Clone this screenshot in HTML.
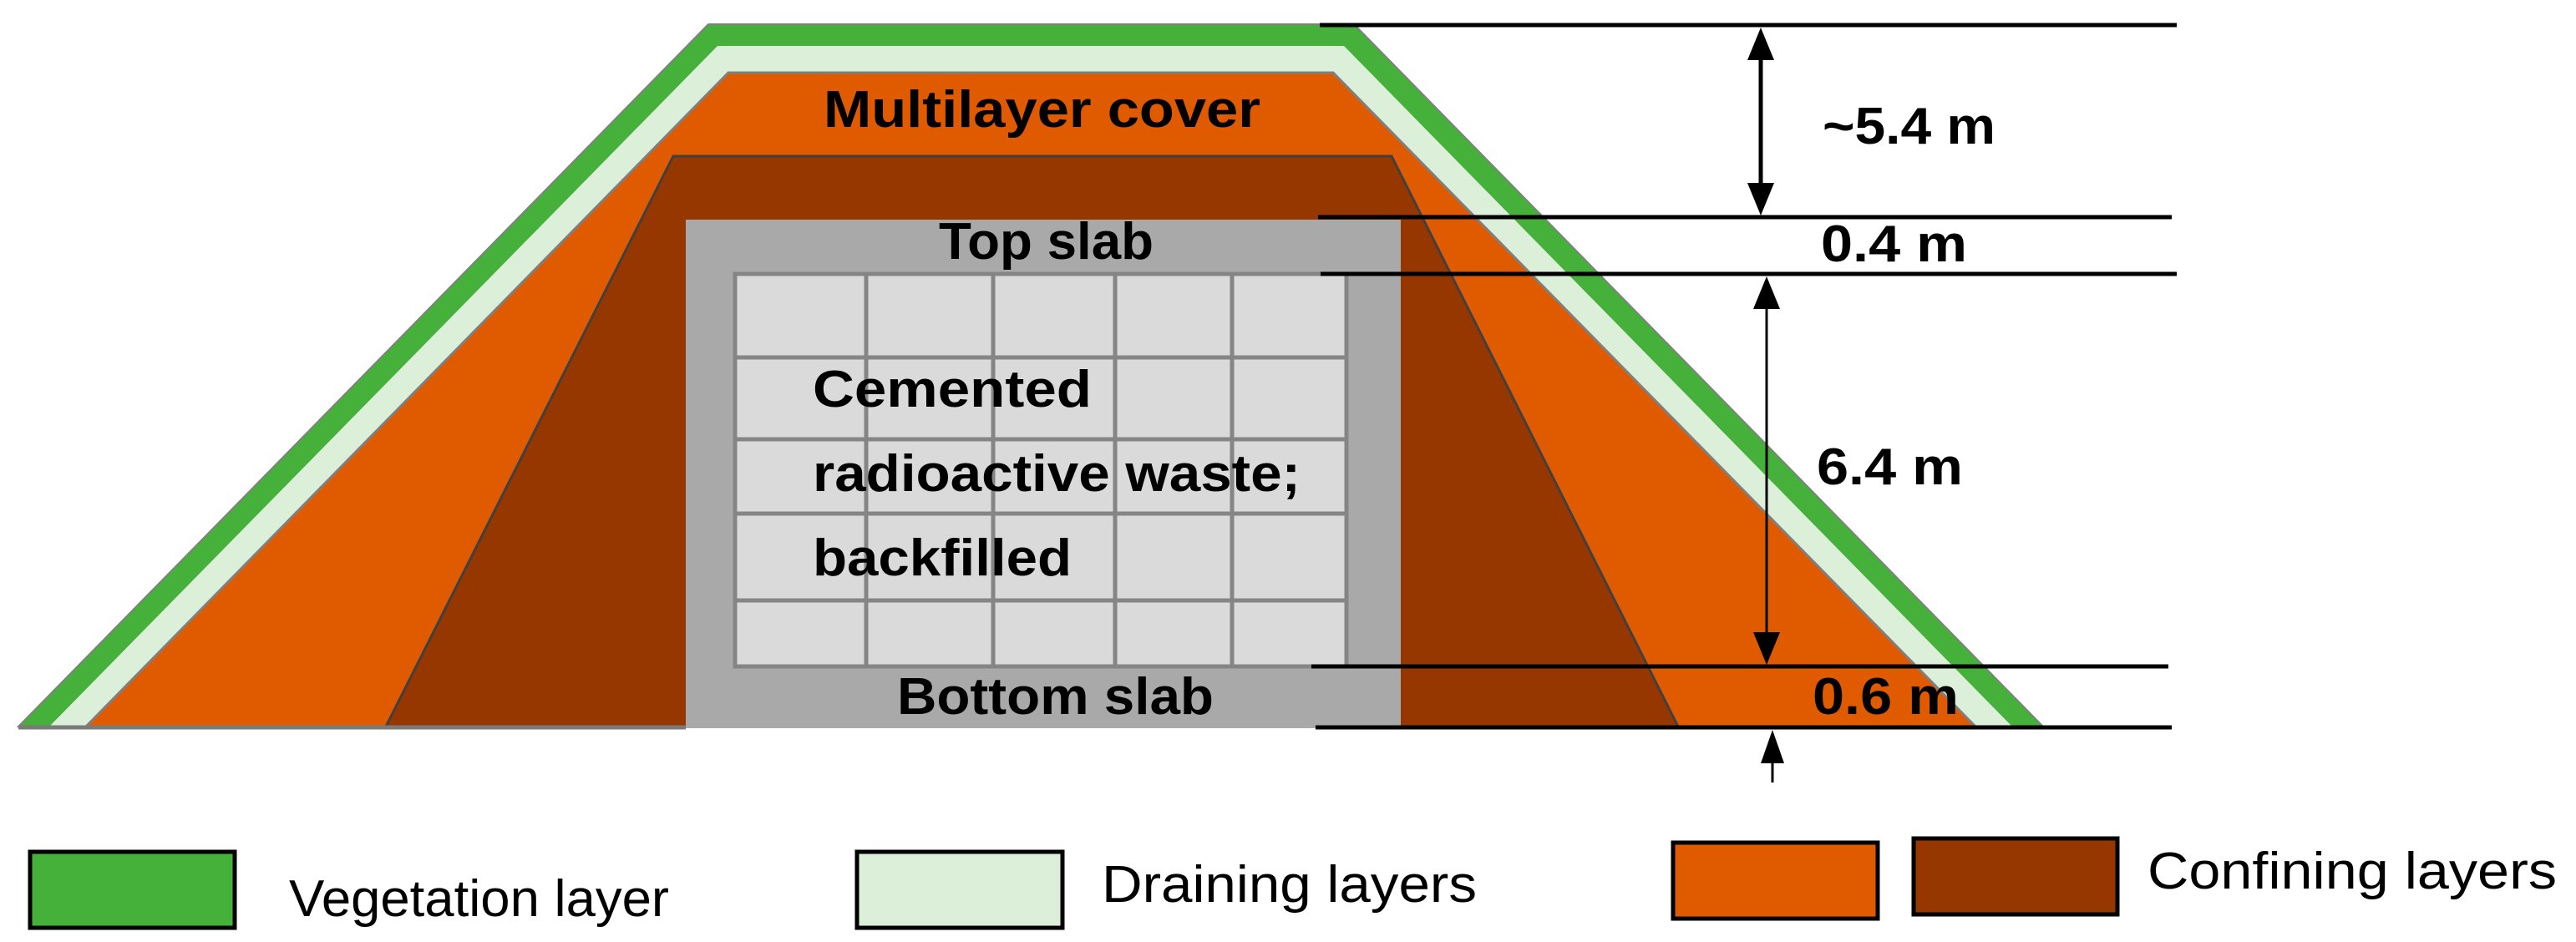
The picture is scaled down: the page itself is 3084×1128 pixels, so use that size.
<!DOCTYPE html>
<html><head><meta charset="utf-8"><style>
html,body{margin:0;padding:0;background:#fff;}
svg{display:block;}
text{font-family:"Liberation Sans",sans-serif;fill:#000;}
</style></head><body>
<svg width="3084" height="1128" viewBox="0 0 3084 1128" xmlns="http://www.w3.org/2000/svg">
<polygon points="848,29 1621,29 2446,870 22,870" fill="#45b03a" stroke="#808080" stroke-width="2"/>
<polygon points="859,55 1609,55 2409,870 59,870" fill="#dcefd9"/>
<polygon points="872,87 1596,87 2365,870 103,870" fill="#e05a00" stroke="#7f7f7f" stroke-width="3"/>
<polygon points="806,187 1666,187 2009,870 462,870" fill="#973700" stroke="#404040" stroke-width="3"/>
<rect x="821" y="263" width="856" height="609" fill="#a9a9a9"/>
<line x1="22" y1="871" x2="821" y2="871" stroke="#7a7a7a" stroke-width="5"/>
<rect x="880" y="328" width="732" height="470" fill="#dadada" stroke="#858585" stroke-width="5"/>
<g stroke="#858585" stroke-width="5">
<line x1="1037" y1="328" x2="1037" y2="798"/>
<line x1="1189" y1="328" x2="1189" y2="798"/>
<line x1="1335" y1="328" x2="1335" y2="798"/>
<line x1="1475" y1="328" x2="1475" y2="798"/>
<line x1="880" y1="428" x2="1612" y2="428"/>
<line x1="880" y1="526" x2="1612" y2="526"/>
<line x1="880" y1="615" x2="1612" y2="615"/>
<line x1="880" y1="719" x2="1612" y2="719"/>
</g>
<g font-weight="bold" font-size="62">
<text x="986" y="152" textLength="523" lengthAdjust="spacingAndGlyphs">Multilayer cover</text>
<text x="1124" y="310" textLength="257" lengthAdjust="spacingAndGlyphs">Top slab</text>
<text x="973" y="487" textLength="334" lengthAdjust="spacingAndGlyphs">Cemented</text>
<text x="973" y="588" textLength="584" lengthAdjust="spacingAndGlyphs">radioactive waste;</text>
<text x="973" y="689" textLength="310" lengthAdjust="spacingAndGlyphs">backfilled</text>
<text x="1074" y="855" textLength="379" lengthAdjust="spacingAndGlyphs">Bottom slab</text>
<text x="2182" y="172" textLength="207" lengthAdjust="spacingAndGlyphs">~5.4 m</text>
<text x="2180" y="313" textLength="175" lengthAdjust="spacingAndGlyphs">0.4 m</text>
<text x="2175" y="580" textLength="175" lengthAdjust="spacingAndGlyphs">6.4 m</text>
<text x="2170" y="855" textLength="175" lengthAdjust="spacingAndGlyphs">0.6 m</text>
</g>
<g stroke="#000" stroke-width="5">
<line x1="1580" y1="30" x2="2606" y2="30"/>
<line x1="1578" y1="260" x2="2600" y2="260"/>
<line x1="1581" y1="328" x2="2606" y2="328"/>
<line x1="1570" y1="798" x2="2596" y2="798"/>
<line x1="1575" y1="871" x2="2600" y2="871"/>
<line x1="2108" y1="60" x2="2108" y2="232"/>
</g>
<line x1="2115" y1="360" x2="2115" y2="770" stroke="#000" stroke-width="3"/>
<line x1="2122" y1="905" x2="2122" y2="937" stroke="#000" stroke-width="3"/>
<g fill="#000">
<polygon points="2108,33 2092,72 2124,72"/>
<polygon points="2108,258 2092,219 2124,219"/>
<polygon points="2115,331 2099,370 2131,370"/>
<polygon points="2115,796 2099,757 2131,757"/>
<polygon points="2122,874 2108,914 2136,914"/>
</g>
<rect x="36" y="1020" width="245" height="91" fill="#45b03a" stroke="#000" stroke-width="5"/>
<rect x="1026" y="1020" width="246" height="91" fill="#dcefd9" stroke="#000" stroke-width="5"/>
<rect x="2003" y="1009" width="245" height="91" fill="#e05a00" stroke="#000" stroke-width="5"/>
<rect x="2291" y="1004" width="244" height="91" fill="#973700" stroke="#000" stroke-width="5"/>
<g font-size="62">
<text x="346" y="1097" textLength="455" lengthAdjust="spacingAndGlyphs">Vegetation layer</text>
<text x="1319" y="1080" textLength="449" lengthAdjust="spacingAndGlyphs">Draining layers</text>
<text x="2571" y="1064" textLength="490" lengthAdjust="spacingAndGlyphs">Confining layers</text>
</g>
</svg>
</body></html>
